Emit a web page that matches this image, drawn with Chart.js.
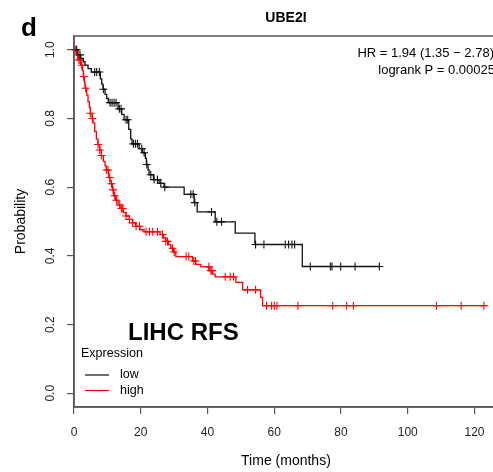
<!DOCTYPE html>
<html>
<head>
<meta charset="utf-8">
<script src="https://cdn.jsdelivr.net/npm/chart.js@4"></script>
<style>
  html, body { margin: 0; padding: 0; background: #fff; overflow: hidden; }
  #wrap { width: 493px; height: 472px; overflow: hidden; }
</style>
</head>
<body>
<div id="wrap"><canvas id="km" width="503" height="472"></canvas></div>
<script>
// Dados (curvas Kaplan-Meier)
const chartTitle = 'UBE2I';
const panelLetter = 'd';
const cohortLabel = 'LIHC RFS';
const statLines = ['HR = 1.94 (1.35 \u2212 2.78)', 'logrank P = 0.00025'];
const groupNames = ['low', 'high'];

const xTicks = [0, 20, 40, 60, 80, 100, 120];
const yTicks = [0, 0.2, 0.4, 0.6, 0.8, 1.0];

// grupo "low" (preto)
const lowTimes = [0, 1.2, 2.0, 2.8, 3.3, 4.2, 5.2, 7.9, 8.3, 8.7, 9.3, 9.8, 10.3, 13.2, 14.3, 15.0,
  16.4, 17.0, 17.4, 19.5, 20.5, 21.4, 21.7, 22.2, 22.5, 23.8, 25.5, 27.0, 33.0, 36.0, 36.9,
  42.3, 48.3, 54.2, 68.4];
const lowSurv = [1.0, 0.985, 0.975, 0.965, 0.955, 0.945, 0.935, 0.915, 0.900, 0.885, 0.870, 0.858,
  0.846, 0.828, 0.812, 0.796, 0.768, 0.740, 0.726, 0.712, 0.700, 0.684, 0.666, 0.650, 0.636,
  0.622, 0.611, 0.600, 0.579, 0.555, 0.528, 0.499, 0.466, 0.433, 0.369];
const lowCensor = [0.8, 1.8, 6.2, 6.8, 7.6, 8.8, 10.8, 11.4, 12.0, 12.6, 13.6, 14.1, 15.6, 16.1,
  17.8, 18.4, 19.0, 20.3, 21.0, 21.8, 23.0, 24.0, 25.0, 26.0, 27.2, 35.0, 35.7, 36.2, 41.2,
  42.8, 44.2, 54.4, 56.9, 63.3, 64.3, 65.3, 66.1, 70.8, 76.8, 77.3, 79.9, 84.2, 91.5];

// grupo "high" (vermelho)
const highTimes = [0, 0.8, 1.3, 2.0, 2.5, 2.8, 3.1, 3.3, 3.8, 4.2, 4.6, 4.9, 5.4, 5.7, 6.2, 6.7,
  7.2, 7.7, 8.2, 8.8, 9.3, 9.7, 10.4, 10.8, 11.5, 11.9, 12.5, 13.2, 13.8, 14.8, 15.6, 16.6,
  17.5, 18.5, 19.8, 21.0, 25.8, 26.8, 27.5, 28.3, 29.0, 29.8, 30.5, 35.5, 36.5, 38.0, 40.5,
  41.5, 42.3, 48.5, 50.5, 55.9, 56.5];
const highSurv = [1.0, 0.985, 0.970, 0.955, 0.940, 0.922, 0.905, 0.888, 0.868, 0.849, 0.832,
  0.815, 0.800, 0.787, 0.762, 0.740, 0.724, 0.708, 0.692, 0.675, 0.662, 0.650, 0.628, 0.610,
  0.592, 0.575, 0.562, 0.548, 0.538, 0.526, 0.516, 0.506, 0.496, 0.486, 0.476, 0.470, 0.462,
  0.452, 0.442, 0.432, 0.422, 0.411, 0.398, 0.385, 0.375, 0.368, 0.357, 0.347, 0.339, 0.323,
  0.301, 0.279, 0.255];
const highCensor = [0.3, 0.6, 1.0, 1.5, 1.8, 2.3, 2.9, 3.5, 4.9, 5.5, 7.2, 7.7, 8.2, 9.7, 10.2,
  10.7, 11.2, 11.7, 12.2, 12.7, 13.7, 14.2, 14.6, 15.6, 16.6, 17.6, 18.6, 19.6, 21.6, 22.6,
  23.6, 25.0, 26.5, 27.5, 28.0, 29.5, 30.0, 33.6, 34.4, 35.9, 36.4, 40.4, 41.0, 41.3, 45.3,
  46.8, 47.8, 52.0, 54.4, 57.7, 59.2, 60.0, 60.8, 67.1, 77.5, 81.7, 83.7, 108.6, 116.0, 122.8];

const corLow = '#111111';
const corHigh = '#ff0000';
const fonte = "'Liberation Sans', Arial, sans-serif";

// valor da curva num instante t
function survAt(times, surv, t) {
  let s = surv[0];
  for (let i = 0; i < times.length; i++) {
    if (times[i] <= t) s = surv[i];
  }
  return s;
}

// pontos da curva em degrau, estendida até a última censura
function curva(times, surv, censor) {
  const pts = times.map((t, i) => ({ x: t, y: surv[i] }));
  const fim = censor[censor.length - 1];
  if (fim > times[times.length - 1]) pts.push({ x: fim, y: surv[surv.length - 1] });
  return pts;
}

function censuras(times, surv, censor) {
  return censor.map(t => ({ x: t, y: survAt(times, surv, t) }));
}

// textos e moldura desenhados por cima
const textos = {
  id: 'textos',
  afterDraw(chart) {
    const ctx = chart.ctx;
    const a = chart.chartArea;
    const ys = chart.scales.y;
    ctx.save();

    // moldura
    ctx.strokeStyle = '#555';
    ctx.lineWidth = 1.5;
    ctx.strokeRect(a.left, a.top, a.right - a.left, a.bottom - a.top);

    ctx.fillStyle = '#000';
    ctx.textBaseline = 'middle';

    ctx.font = 'bold 26px ' + fonte;
    ctx.textAlign = 'left';
    ctx.fillText(panelLetter, 21, 29);

    ctx.font = 'bold 14px ' + fonte;
    ctx.textAlign = 'center';
    ctx.fillText(chartTitle, (a.left + a.right) / 2, 18);

    // rótulos do eixo y (girados)
    ctx.font = '12px ' + fonte;
    ctx.fillStyle = '#222';
    yTicks.forEach(v => {
      ctx.save();
      ctx.translate(50.5, ys.getPixelForValue(v));
      ctx.rotate(-Math.PI / 2);
      ctx.fillText(v.toFixed(1), 0, 0);
      ctx.restore();
    });

    ctx.fillStyle = '#000';
    ctx.font = '14px ' + fonte;
    ctx.save();
    ctx.translate(21, (a.top + a.bottom) / 2);
    ctx.rotate(-Math.PI / 2);
    ctx.fillText('Probability', 0, 0);
    ctx.restore();

    ctx.fillText('Time (months)', (a.left + a.right) / 2, 461);

    // HR e logrank
    ctx.font = '13px ' + fonte;
    ctx.textAlign = 'right';
    ctx.fillText(statLines[0], 494, 53);
    ctx.fillText(statLines[1], 495, 70);

    ctx.font = 'bold 24px ' + fonte;
    ctx.textAlign = 'left';
    ctx.fillText(cohortLabel, 128, 333);

    // legenda
    ctx.font = '12.5px ' + fonte;
    ctx.fillText('Expression', 81, 354);
    const cores = [corLow, corHigh];
    groupNames.forEach((nome, i) => {
      const y = 375 + i * 15.5;
      ctx.strokeStyle = cores[i];
      ctx.lineWidth = 1.2;
      ctx.beginPath();
      ctx.moveTo(85, y);
      ctx.lineTo(109, y);
      ctx.stroke();
      ctx.fillStyle = '#000';
      ctx.fillText(nome, 120, y);
    });

    ctx.restore();
  }
};

const ctx = document.getElementById('km').getContext('2d');
new Chart(ctx, {
  type: 'scatter',
  data: {
    datasets: [
      {
        label: groupNames[0],
        data: curva(lowTimes, lowSurv, lowCensor),
        showLine: true,
        stepped: 'before',
        borderColor: corLow,
        borderWidth: 1.3,
        pointRadius: 0
      },
      {
        label: groupNames[1],
        data: curva(highTimes, highSurv, highCensor),
        showLine: true,
        stepped: 'before',
        borderColor: corHigh,
        borderWidth: 1.3,
        pointRadius: 0
      },
      {
        label: groupNames[0] + ' censored',
        data: censuras(lowTimes, lowSurv, lowCensor),
        pointStyle: 'cross',
        pointRadius: 4,
        borderColor: corLow,
        borderWidth: 1.1,
        clip: false
      },
      {
        label: groupNames[1] + ' censored',
        data: censuras(highTimes, highSurv, highCensor),
        pointStyle: 'cross',
        pointRadius: 4,
        borderColor: corHigh,
        borderWidth: 1.1,
        clip: false
      }
    ]
  },
  options: {
    responsive: false,
    animation: false,
    devicePixelRatio: 1,
    layout: { padding: { top: 36, left: 0, right: 1, bottom: 0 } },
    plugins: {
      legend: { display: false },
      tooltip: { enabled: false },
      title: { display: false }
    },
    scales: {
      x: {
        type: 'linear',
        min: 0,
        max: 127,
        afterBuildTicks: s => { s.ticks = xTicks.map(v => ({ value: v })); },
        afterFit: s => { s.height = 65; },
        grid: { drawOnChartArea: false, drawTicks: true, tickLength: 7, color: '#555', lineWidth: 1.2 },
        border: { display: true, color: '#555', width: 1.5 },
        ticks: { color: '#222', font: { family: fonte, size: 12 }, padding: 11, maxRotation: 0 }
      },
      y: {
        type: 'linear',
        min: -0.04,
        max: 1.04,
        afterBuildTicks: s => { s.ticks = yTicks.map(v => ({ value: v })); },
        afterFit: s => { s.width = 74; },
        grid: { drawOnChartArea: false, drawTicks: true, tickLength: 7, color: '#555', lineWidth: 1.2 },
        border: { display: true, color: '#555', width: 1.5 },
        ticks: { callback: () => '' }
      }
    }
  },
  plugins: [textos]
});
</script>
</body>
</html>
